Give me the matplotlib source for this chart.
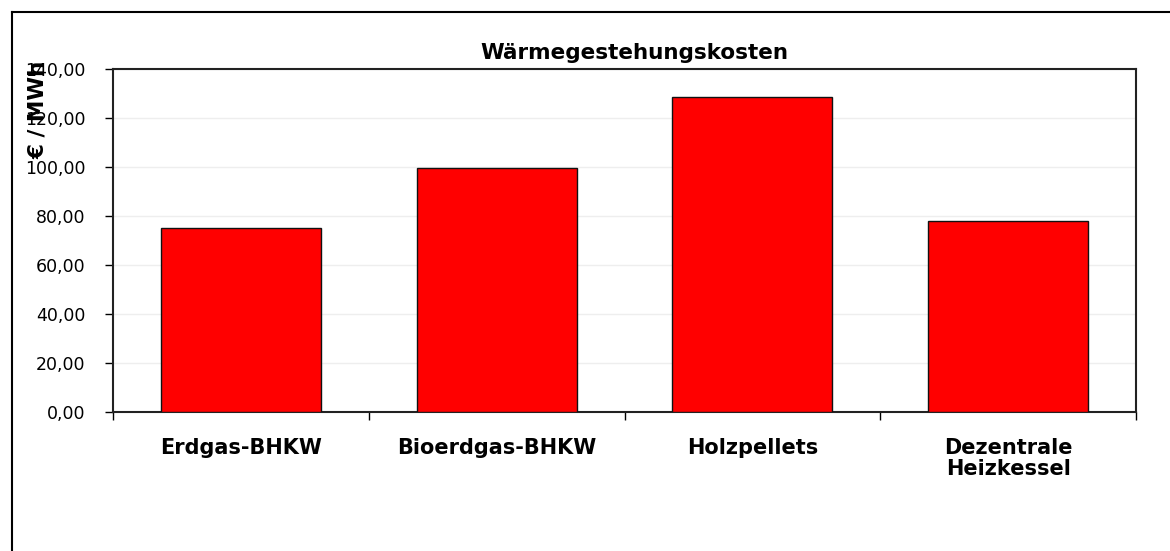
import matplotlib.pyplot as plt
from matplotlib.lines import Line2D
from matplotlib.ticker import FuncFormatter

# Data
categories = ["Erdgas-BHKW", "Bioerdgas-BHKW", "Holzpellets", "Dezentrale\nHeizkessel"]
values = [75.2, 99.5, 128.4, 78.0]
yticks = [0, 20, 40, 60, 80, 100, 120, 140]

W, H = 1170, 551
fig = plt.figure(figsize=(W / 100, H / 100), dpi=100)
ax = fig.add_axes([113 / W, 1 - 412 / H, (1136 - 113) / W, (412 - 69) / H])

x = list(range(len(categories)))
ax.bar(x, values, width=0.625, color="#ff0000", edgecolor="#111111", linewidth=1.0, zorder=3)

ax.set_xlim(-0.5, len(categories) - 0.5)
ax.set_ylim(0, 140)
ax.set_yticks(yticks)
ax.yaxis.set_major_formatter(FuncFormatter(lambda v, p: f"{v:.2f}".replace(".", ",")))
ax.grid(axis="y", color="#eeeeee", linewidth=1.0, zorder=0)

# category labels between boundary ticks
ax.set_xticks([i - 0.5 for i in range(len(categories) + 1)])
ax.set_xticklabels([])
ax.set_xticks(x, minor=True)
ax.set_xticklabels(categories, minor=True, fontsize=15, fontweight="bold", linespacing=1.05)
ax.tick_params(axis="x", which="minor", length=0, pad=19)
ax.tick_params(axis="x", which="major", length=6, width=1, direction="out")
ax.tick_params(axis="y", length=6, width=1, direction="out", labelsize=12.5, pad=14)

for s in ax.spines.values():
    s.set_color("#222222")
    s.set_linewidth(1.5)

fig.text(634 / W, 1 - 53 / H, "Wärmegestehungskosten", ha="center", va="center",
         fontsize=15.5, fontweight="bold")
fig.text(38 / W, 1 - 110 / H, "€ / MWh", ha="center", va="center", rotation=90,
         fontsize=15.5, fontweight="bold")

# outer frame (left and top only visible)
fig.add_artist(Line2D([12 / W, 12 / W], [0, 1 - 12 / H], color="black", linewidth=1.5))
fig.add_artist(Line2D([12 / W, 1], [1 - 12 / H, 1 - 12 / H], color="black", linewidth=1.5))

fig.savefig("out.png", dpi=100)
